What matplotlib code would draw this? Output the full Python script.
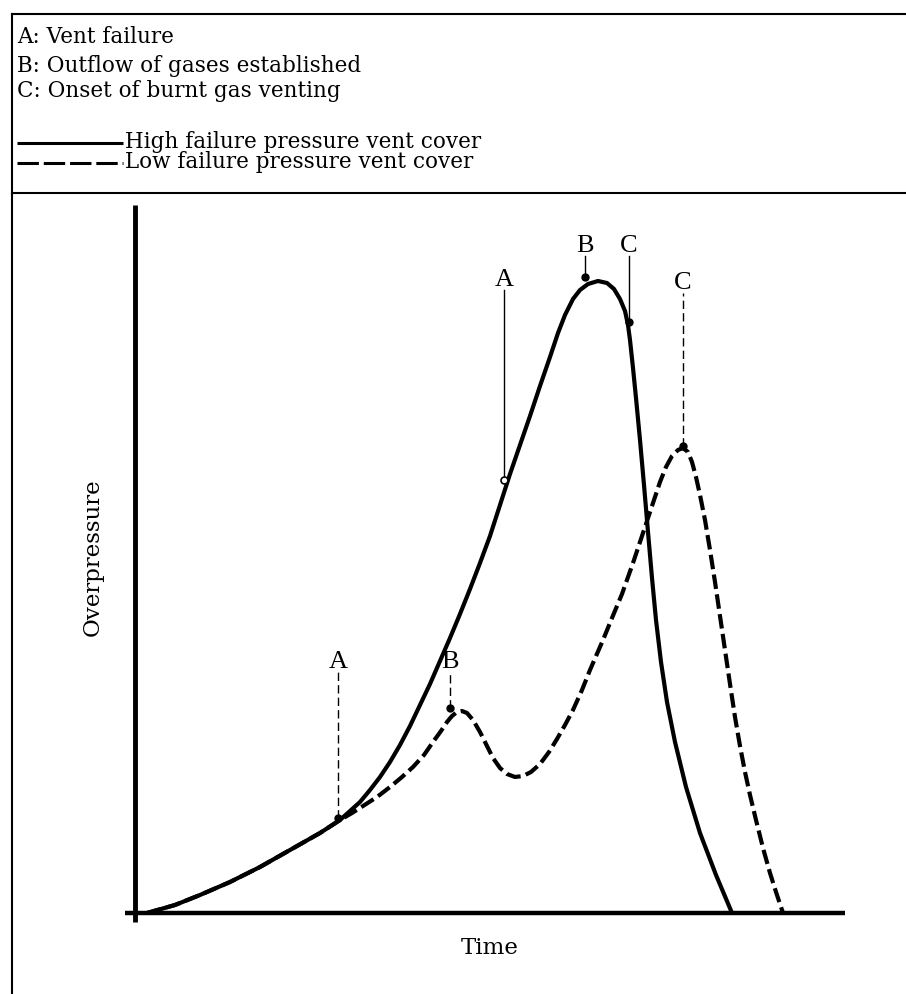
import matplotlib
matplotlib.use('Agg')
import matplotlib.pyplot as plt
from matplotlib.lines import Line2D

W, H, DPI = 906, 994, 100

# ---- data (time and overpressure in arbitrary units) ----
time_high = [12, 40, 65, 95, 125, 155, 185, 205, 215, 225, 235, 245, 255, 265,
             275, 285, 295, 305, 315, 325, 335, 345, 355, 365, 375, 385, 395,
             405, 415, 423, 430, 438, 445, 453, 463, 472, 479, 485, 490, 493,
             495, 498, 501, 505, 509, 513, 517, 521, 526, 532, 540, 551, 565,
             581, 597]
p_high = [0, 8, 18, 31, 46, 63, 80, 93, 102, 111, 123, 136, 151, 168,
          187, 208, 229, 252, 275, 299, 324, 350, 377, 408, 439, 468, 497,
          527, 556, 580, 598, 614, 623, 629, 632, 630, 624, 614, 602, 588,
          573, 545, 515, 473, 428, 381, 335, 293, 251, 211, 171, 126, 80,
          38, 0]

time_low = [12, 40, 65, 95, 125, 155, 185, 205, 217, 228, 242, 255, 267, 278,
            289, 298, 306, 312, 317, 322, 327, 332, 338, 345, 352, 358, 365,
            372, 380, 388, 396, 405, 414, 422, 430, 438, 447, 455, 468, 477,
            487, 498, 505, 512, 519, 525, 531, 537, 543, 548, 553, 557, 561,
            565, 570, 575, 580, 585, 590, 595, 600, 605, 610, 615, 621, 628,
            635, 641, 648]
p_low = [0, 8, 18, 31, 46, 63, 80, 93, 100, 107, 116, 126, 136, 146,
         158, 171, 182, 191, 197, 201, 202, 200, 193, 181, 167, 155, 145,
         139, 136, 137, 141, 149, 161, 174, 188, 203, 223, 243, 273, 295,
         319, 350, 371, 392, 413, 431, 446, 457, 463, 465, 461, 451, 436,
         418, 393, 363, 331, 297, 263, 229, 196, 167, 141, 118, 93, 65,
         40, 21, 0]

event_labels = ['A', 'B', 'C']
high_event_time = [369, 450, 494]
high_event_p = [433, 636, 591]
high_label_p = [623, 657, 657]
low_event_time = [203, 315, 548]
low_event_p = [95, 205, 467]
low_label_p = [241, 241, 620]

notes = ['A: Vent failure', 'B: Outflow of gases established',
         'C: Onset of burnt gas venting']
series_names = ['High failure pressure vent cover',
                'Low failure pressure vent cover']
x_label = 'Time'
y_label = 'Overpressure'

# ---- figure ----
SERIF = ['DejaVu Serif']
LABEL_FONT = ['Liberation Serif', 'DejaVu Serif']
fig = plt.figure(figsize=(W / DPI, H / DPI), dpi=DPI)
fig.patch.set_facecolor('white')
ax = fig.add_axes([0, 0, 1, 1])
x0px, y0px = 135, 913
ax.set_xlim(-x0px, W - x0px)
ax.set_ylim(-(H - y0px), y0px)
ax.axis('off')

# axes lines
ax.plot([0, 0], [-9, 708], color='black', lw=3.5, solid_capstyle='butt')
ax.plot([-10, 710], [0, 0], color='black', lw=3.2, solid_capstyle='butt')

# curves
ax.plot(time_low, p_low, color='black', lw=3, dashes=(3.5, 1.3),
        dash_capstyle='butt', dash_joinstyle='round', zorder=3)
ax.plot(time_high, p_high, color='black', lw=3, solid_capstyle='round',
        solid_joinstyle='round', zorder=4)

# annotations
for i, lab in enumerate(event_labels):
    t, p, top = high_event_time[i], high_event_p[i], high_label_p[i]
    ax.plot([t, t], [p, top], color='black', lw=1, zorder=2)
    if lab == 'A':
        ax.plot([t], [p], marker='o', ms=5, mfc='white', mec='black', mew=1.2, zorder=5)
    else:
        ax.plot([t], [p], marker='o', ms=5, color='black', zorder=5)
    ax.text(t, top + 4, lab, ha='center', va='baseline', fontsize=19,
            family=LABEL_FONT, color='black')

    t, p, top = low_event_time[i], low_event_p[i], low_label_p[i]
    ax.plot([t, t], [p, top], color='black', lw=1, dashes=(6, 3), zorder=2)
    ax.plot([t], [p], marker='o', ms=5, color='black', zorder=5)
    ax.text(t, top + 4, lab, ha='center', va='baseline', fontsize=19,
            family=LABEL_FONT, color='black')

ax.text(355, -41, x_label, ha='center', va='baseline', fontsize=16.5,
        family=SERIF)
fig.text(93 / W, 1 - 557 / H, y_label, rotation=90, ha='center', va='center',
         fontsize=16.5, family=SERIF)

# header box
def fline(x1, y1, x2, y2, lw=1.5, **kw):
    fig.add_artist(Line2D([x1 / W, x2 / W], [1 - y1 / H, 1 - y2 / H],
                          transform=fig.transFigure, color='black', lw=lw, **kw))

fline(12, 14, W, 14)
fline(12, 14, 12, H)
fline(12, 193, W, 193)

for i, n in enumerate(notes):
    fig.text(17 / W, 1 - [43, 72, 97][i] / H, n, ha='left', va='baseline',
             fontsize=15.5, family=SERIF)

fline(17, 143, 123, 143, lw=2.2, solid_capstyle='butt')
fline(17, 163, 123, 163, lw=2.2, dashes=(7, 1.6), dash_capstyle='butt')
fig.text(125 / W, 1 - 148 / H, series_names[0], ha='left', va='baseline',
         fontsize=15.5, family=SERIF)
fig.text(125 / W, 1 - 168 / H, series_names[1], ha='left', va='baseline',
         fontsize=15.5, family=SERIF)

fig.savefig('out.png', dpi=DPI, facecolor='white')
